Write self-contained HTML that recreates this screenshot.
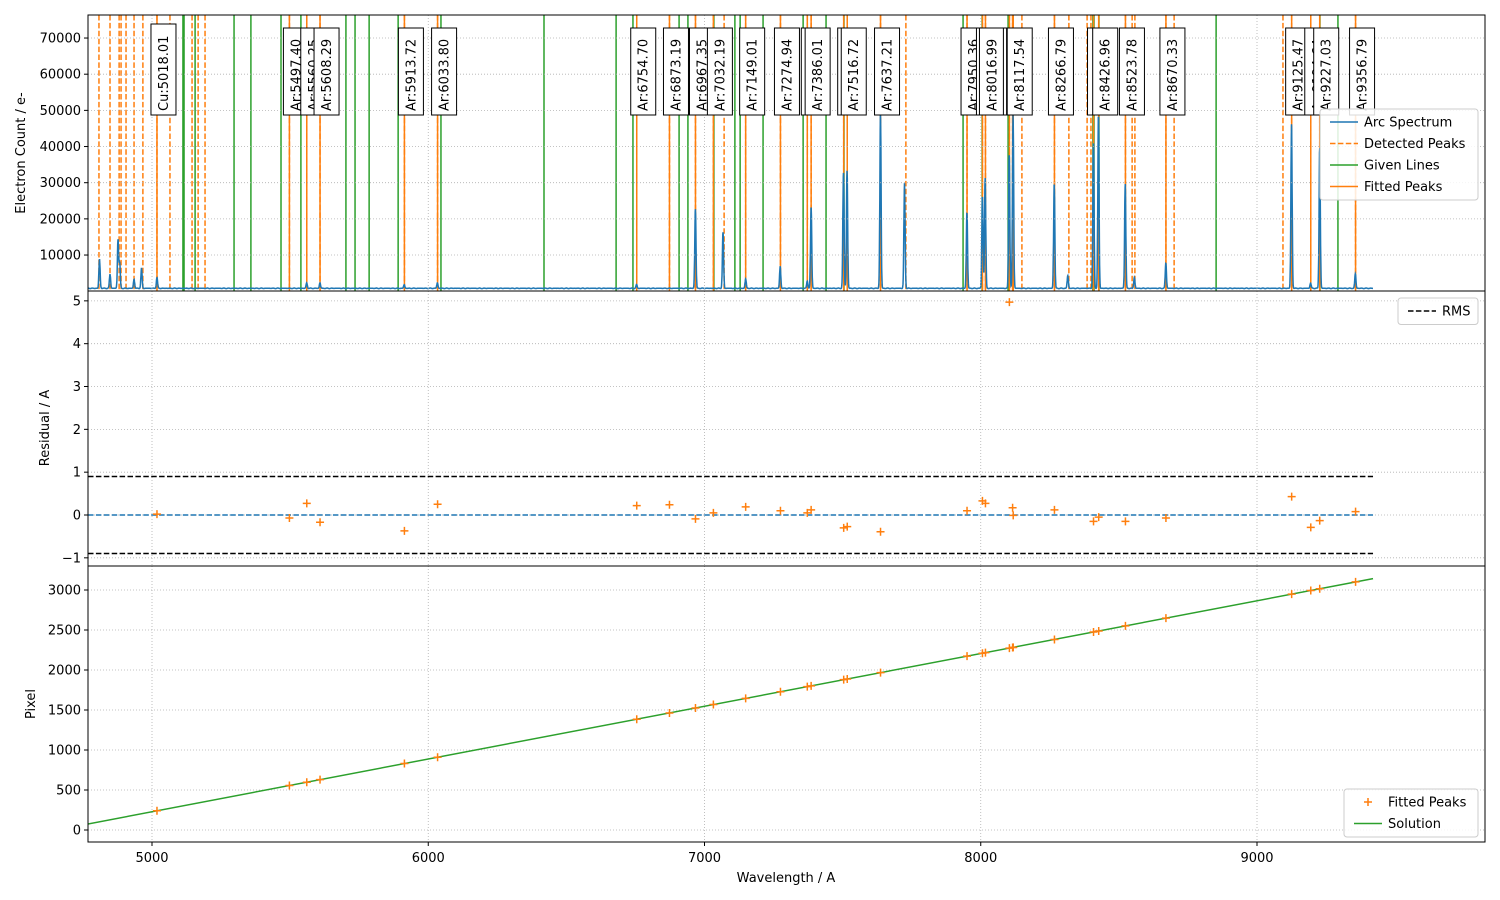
<!DOCTYPE html>
<html><head><meta charset="utf-8"><style>
body{margin:0;background:#fff}
svg{display:block;font-family:"DejaVu Sans","Liberation Sans",sans-serif}
</style></head><body>
<svg id="c" width="1500" height="900" xmlns="http://www.w3.org/2000/svg"></svg>
<script>
const detectedPeaks=[4808,4848,4881,4888,4906,4935,4967,5065,5145,5167,5192,7071,7729,8149,8319,8385,8399,8548,8558,8700,9094];
const givenLines=[5112,5116,5156,5297,5358,5467,5539,5702,5735,5786,5891,6046,6419,6680,6741,6908,6940,7034,7110,7129,7212,7357,7440,7505,7936,8005,8099,8117,8406,8410,8428,8852,9228,9293];
const fittedWave=[5018.01,5497.40,5560.25,5608.29,5913.72,6033.80,6754.70,6873.19,6967.35,7032.19,7149.01,7274.94,7372.12,7386.01,7503.87,7516.72,7637.21,7950.36,8006.16,8016.99,8103.69,8115.31,8117.54,8266.79,8408.21,8426.96,8523.78,8670.33,9125.47,9194.64,9227.03,9356.79];
const fittedElem=["Cu","Ar","Ar","Ar","Ar","Ar","Ar","Ar","Ar","Ar","Ar","Ar","Ar","Ar","Ar","Ar","Ar","Ar","Ar","Ar","Ar","Ar","Ar","Ar","Ar","Ar","Ar","Ar","Ar","Ar","Ar","Ar"];
const residuals=[0.02,-0.07,0.27,-0.17,-0.37,0.25,0.22,0.24,-0.09,0.05,0.19,0.10,0.05,0.12,-0.30,-0.27,-0.39,0.10,0.33,0.27,4.97,0.17,-0.01,0.12,-0.15,-0.05,-0.15,-0.07,0.43,-0.29,-0.13,0.08];
const fittedPixel=[240,556,597,629,831,910,1385,1463,1525,1568,1645,1728,1792,1801,1879,1887,1967,2173,2210,2217,2274,2282,2283,2382,2475,2487,2551,2648,2948,2994,3015,3101];
const solutionCoef=[240,0.6593];const solutionRef=5018;
const rms=0.9;
const peakWave=[4810,4848,4877,4883,4935,4962,5018,5560,5608,5913,6033,6754,6967,7067,7149,7274,7372,7386,7503,7516,7637,7724,7950,8006,8016,8103,8117,8266,8315,8408,8426,8523,8556,8670,9125,9194,9227,9356];
const peakHeight=[8000,3900,13500,7000,2500,5500,3000,1500,1500,1000,1500,1000,22000,15500,2600,6000,2000,22500,32000,32500,48600,29000,21000,25500,30500,37000,48000,29000,3500,40000,48000,29000,3000,7000,45500,1500,39000,4000];
const specRange=[4768,9420];const baseline=800;
const xTicks=[5000,6000,7000,8000,9000];
const y1Ticks=[10000,20000,30000,40000,50000,60000,70000];
const y2Ticks=[-1,0,1,2,3,4,5];
const y3Ticks=[0,500,1000,1500,2000,2500,3000];

const NS="http://www.w3.org/2000/svg",svg=document.getElementById('c');
const L=88,R=1485;
const P1=[15,291],P2=[291,566],P3=[566,842];
const X=w=>152+(w-5000)*0.27625;
const Y1=v=>291.2-v*0.0036167;
const Y2=v=>515-v*42.83;
const Y3=v=>830-v*0.08;
const BLUE="#1f77b4",ORANGE="#ff7f0e",GREEN="#2ca02c";
function el(t,a,p){const e=document.createElementNS(NS,t);for(const k in a)e.setAttribute(k,a[k]);(p||svg).appendChild(e);return e;}
function txt(s,a,p){const e=el('text',a,p);e.textContent=s;return e;}
const defs=el('defs',{});
[[P1,'c1'],[P2,'c2'],[P3,'c3']].forEach(([p,id])=>{const cp=el('clipPath',{id},defs);el('rect',{x:L,y:p[0],width:R-L,height:p[1]-p[0]},cp);});
function grid(p,ticks,Y,g){
  xTicks.forEach(t=>{el('line',{x1:X(t),x2:X(t),y1:p[0],y2:p[1],stroke:"#b0b0b0","stroke-width":0.8,"stroke-dasharray":"1,2"},g);});
  ticks.forEach(t=>{el('line',{x1:L,x2:R,y1:Y(t),y2:Y(t),stroke:"#b0b0b0","stroke-width":0.8,"stroke-dasharray":"1,2"},g);
    el('line',{x1:L-4,x2:L,y1:Y(t),y2:Y(t),stroke:"#000"},g);
    const lb=txt(String(t).replace('-','−'),{x:L-7,y:Y(t)+4.5,"text-anchor":"end","font-size":13},g);
    
    
  });
}
const g1=el('g',{'clip-path':'url(#c1)'});
grid(P1,y1Ticks,Y1,svg);
detectedPeaks.forEach(w=>{const l=el('line',{x1:X(w),x2:X(w),y1:P1[0],y2:P1[1],stroke:ORANGE,"stroke-width":1.5,"stroke-dasharray":"5.5,2.4"},g1);
  });
fittedWave.forEach(w=>{el('line',{x1:X(w),x2:X(w),y1:P1[0],y2:P1[1],stroke:ORANGE,"stroke-width":1.5,"stroke-dasharray":"5.5,2.4"},g1);});
givenLines.forEach(w=>{const l=el('line',{x1:X(w),x2:X(w),y1:P1[0],y2:P1[1],stroke:GREEN,"stroke-width":1.5},g1);
  });
fittedWave.forEach(w=>{const l=el('line',{x1:X(w),x2:X(w),y1:P1[0],y2:P1[1],stroke:ORANGE,"stroke-width":1.5},g1);
  });
let d="";
for(let w=specRange[0];w<=specRange[1];w+=0.8){
  let v=baseline+80*Math.sin(w*0.37)*Math.sin(w*0.051);
  for(let i=0;i<peakWave.length;i++){const dw=(w-peakWave[i])/2.2;if(Math.abs(dw)<6)v+=peakHeight[i]*Math.exp(-dw*dw/2);}
  d+=(d?"L":"M")+X(w).toFixed(1)+","+Y1(v).toFixed(1);
}
const sp=el('path',{d,fill:"none",stroke:BLUE,"stroke-width":1.5},g1);

fittedWave.forEach((w,i)=>{
  const g=el('g',{},svg);
  
  const top=fittedElem[i]=="Cu"?24:28;
  el('rect',{x:X(w)-6,y:top,width:25,height:115-top,fill:"#fff",stroke:"#000","stroke-width":1},g);
  txt(fittedElem[i]+":"+w.toFixed(2),{x:0,y:0,"font-size":13,transform:`translate(${X(w)+11},111) rotate(-90)`},g);
});
grid(P2,y2Ticks,Y2,svg);
const g2=el('g',{'clip-path':'url(#c2)'});
const zl=el('line',{x1:L,x2:X(specRange[1]),y1:Y2(0),y2:Y2(0),stroke:BLUE,"stroke-width":1.5,"stroke-dasharray":"5.5,2.4"},g2);

[rms,-rms].forEach(r=>{const l=el('line',{x1:L,x2:X(specRange[1]),y1:Y2(r),y2:Y2(r),stroke:"#000","stroke-width":1.5,"stroke-dasharray":"5.5,2.4"},g2);
  });
function plus(x,y,g){return el('path',{d:`M${x-4},${y}H${x+4}M${x},${y-4}V${y+4}`,stroke:ORANGE,"stroke-width":1.5},g);}
fittedWave.forEach((w,i)=>{const p=plus(X(w),Y2(residuals[i]),g2);});
grid(P3,y3Ticks,Y3,svg);
const g3=el('g',{'clip-path':'url(#c3)'});
const sol=w=>solutionCoef[0]+solutionCoef[1]*(w-solutionRef);
const sl=el('line',{x1:X(specRange[0]),y1:Y3(sol(specRange[0])),x2:X(specRange[1]),y2:Y3(sol(specRange[1])),stroke:GREEN,"stroke-width":1.5},g3);

fittedWave.forEach((w,i)=>{const p=plus(X(w),Y3(fittedPixel[i]),g3);});
xTicks.forEach(t=>{el('line',{x1:X(t),x2:X(t),y1:842,y2:846,stroke:"#000"});
  const lb=txt(String(t),{x:X(t),y:862,"text-anchor":"middle","font-size":13});
  });
[P1,P2,P3].forEach(p=>{const r=el('rect',{x:L,y:p[0],width:R-L,height:p[1]-p[0],fill:"none",stroke:"#000","stroke-width":1});});
function vt(s,x,y,n){const t=txt(s,{x:0,y:0,"font-size":13,"text-anchor":"middle",transform:`translate(${x},${y}) rotate(-90)`});}
vt("Electron Count / e-",25,153,'y-axis-title-counts');
vt("Residual / A",49,428,'y-axis-title-residual');
vt("Pixel",35,704,'y-axis-title-pixel');
const xt=txt("Wavelength / A",{x:786,y:882,"text-anchor":"middle","font-size":13});
function legend(x,y,w,items,n){const g=el('g',{});
  el('rect',{x,y,width:w,height:items.length*21.5+5,rx:3,fill:"#fff","fill-opacity":0.85,stroke:"#ccc"},g);
  items.forEach((it,i)=>{const cy=y+13+i*21.5;
    if(it[2]=="plus"){el('path',{d:`M${x+20},${cy}h8M${x+24},${cy-4}v8`,stroke:it[1],"stroke-width":1.5},g);}
    else el('line',{x1:x+10,x2:x+38,y1:cy,y2:cy,stroke:it[1],"stroke-width":1.5,"stroke-dasharray":it[2]||"none"},g);
    txt(it[0],{x:x+44,y:cy+4.5,"font-size":13},g);});}
legend(1320,109,158,[["Arc Spectrum",BLUE],["Detected Peaks",ORANGE,"5.5,2.4"],["Given Lines",GREEN],["Fitted Peaks",ORANGE]],'spectrum-legend');
legend(1398,298,80,[["RMS","#000","5.5,2.4"]],'rms-legend');
legend(1344,789,134,[["Fitted Peaks",ORANGE,"plus"],["Solution",GREEN]],'pixel-legend');
</script>
</body></html>
